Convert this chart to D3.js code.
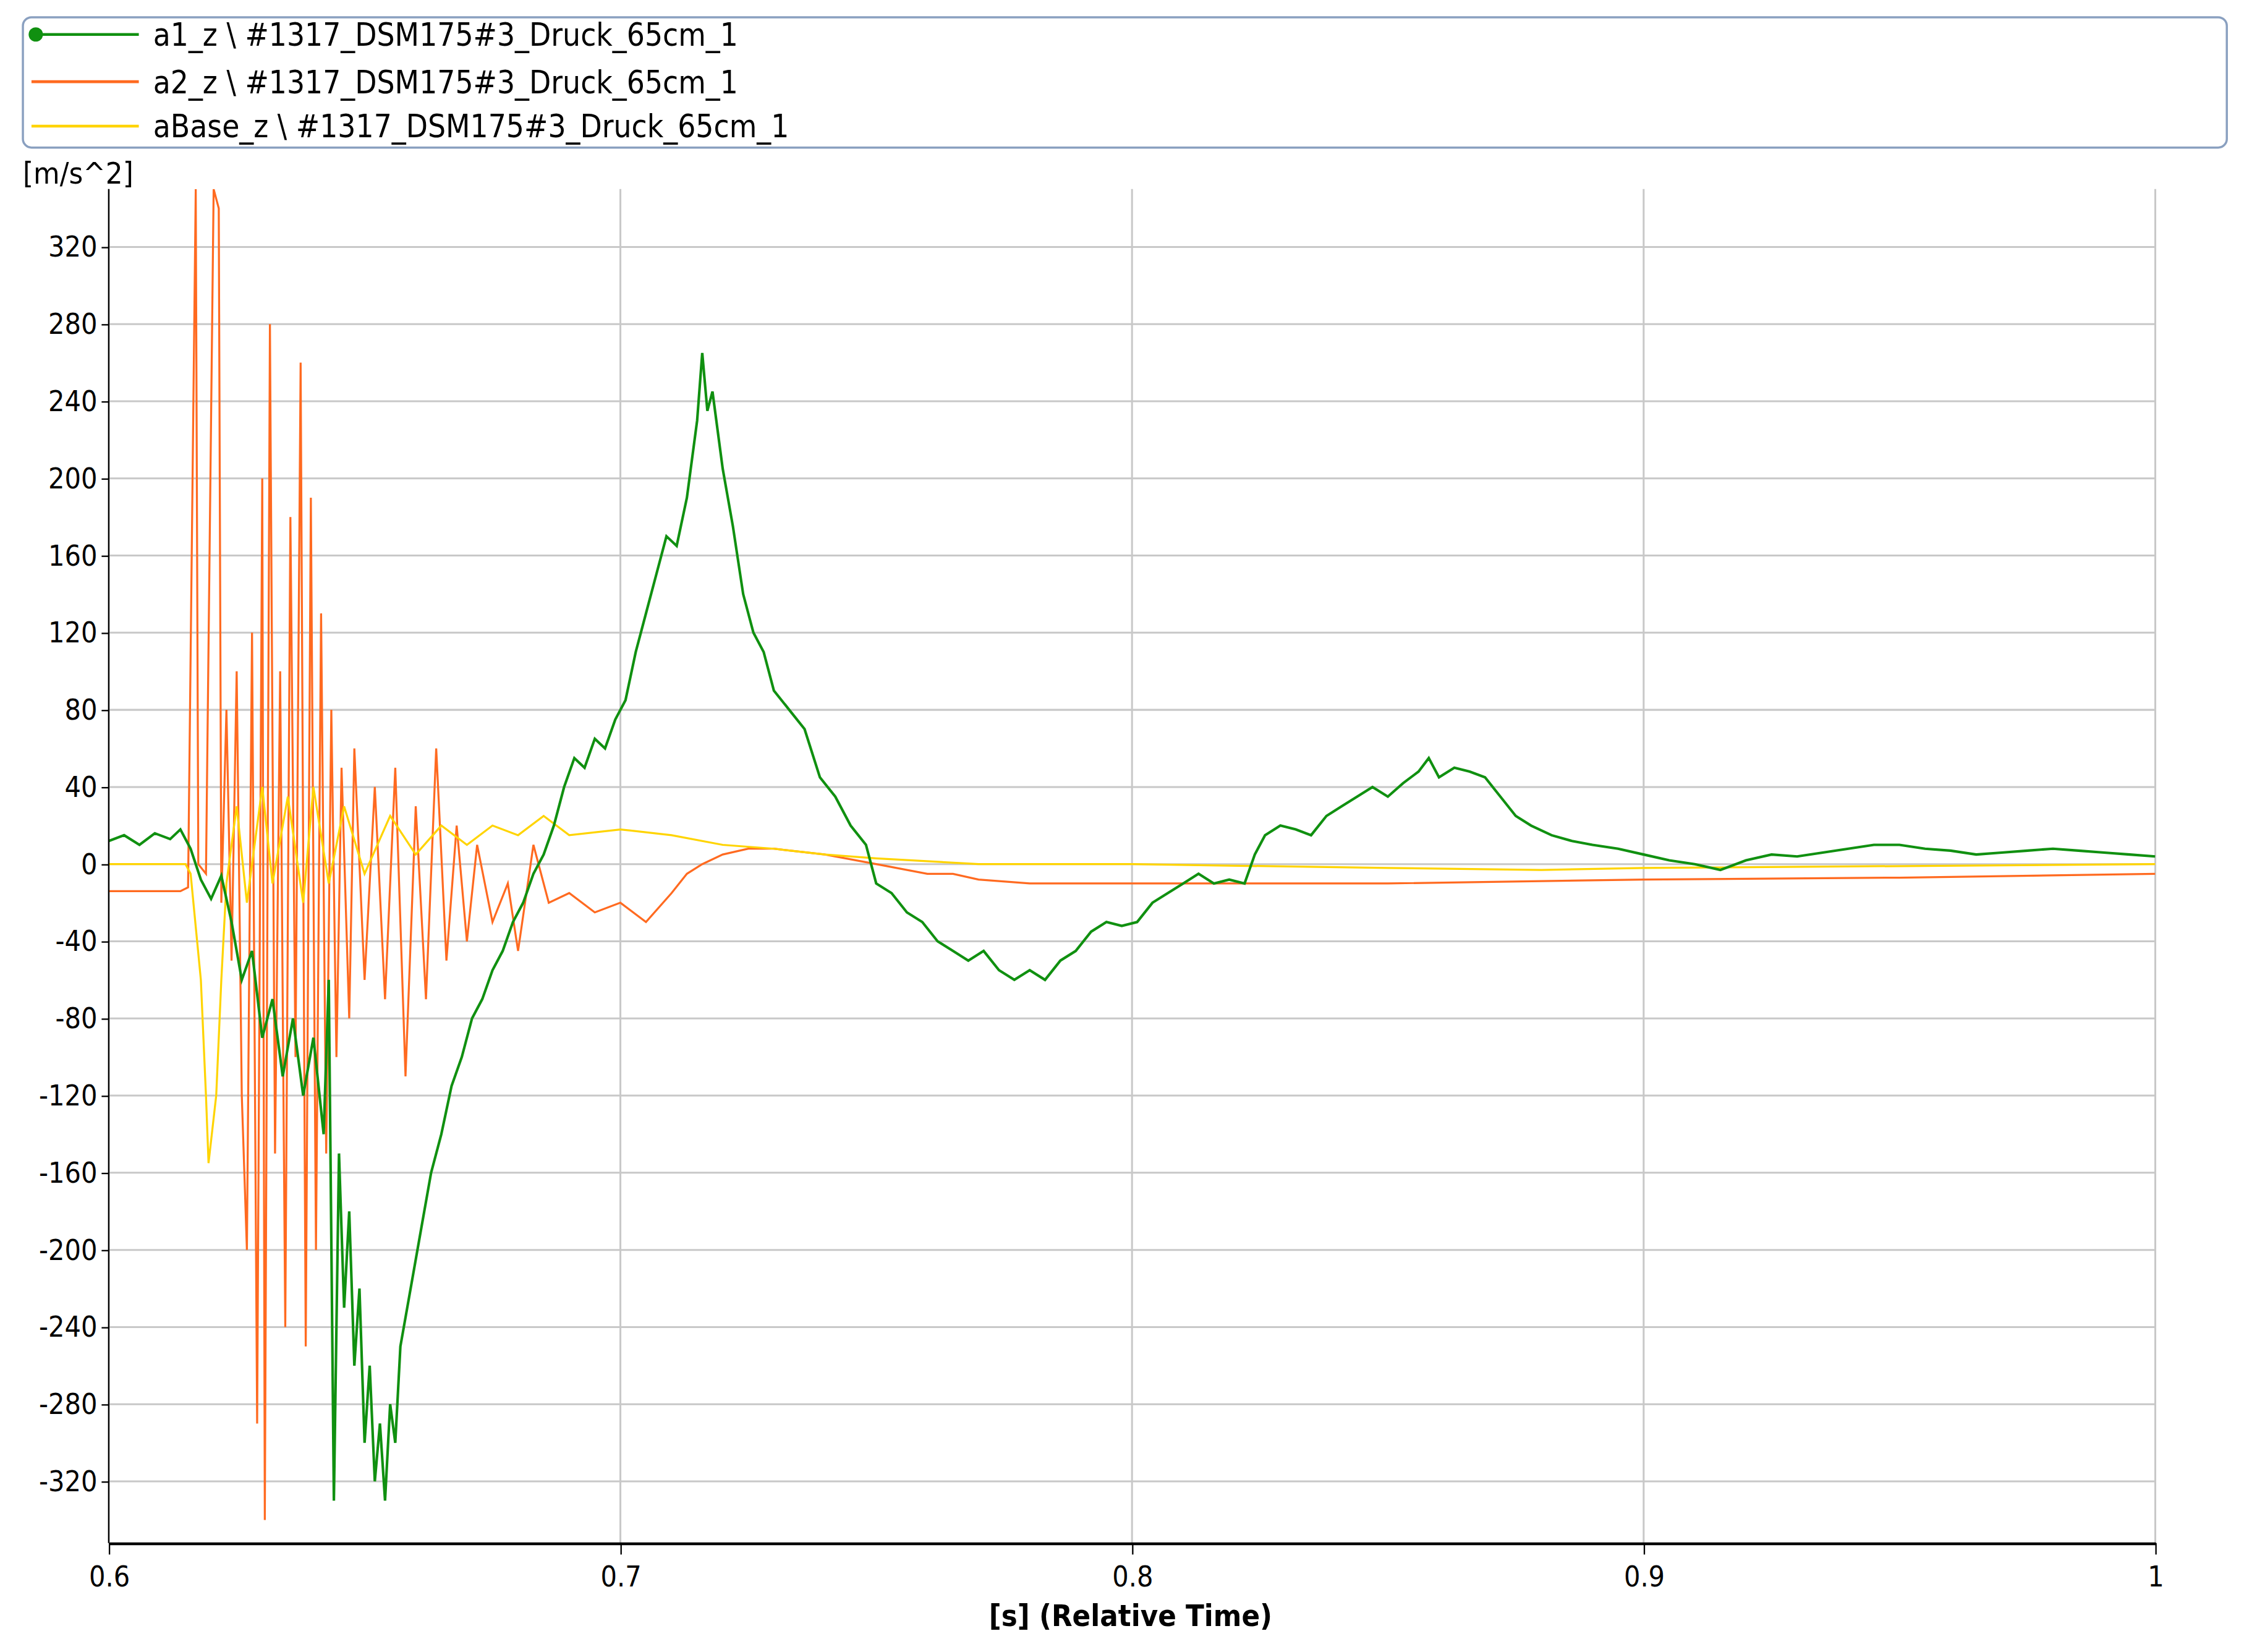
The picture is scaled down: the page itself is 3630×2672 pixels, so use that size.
<!DOCTYPE html><html><head><meta charset="utf-8"><script src="https://cdn.jsdelivr.net/npm/d3@7"></script>
<style>body{margin:0;background:#fff}text{font-family:"DejaVu Sans Condensed","DejaVu Sans",sans-serif}</style></head><body>
<svg id="c" width="3630" height="2672" viewBox="0 0 1568 1154"></svg>
<script>
const xTicks=[0.6,0.7,0.8,0.9,1];
const xTickLabels=["0.6","0.7","0.8","0.9","1"];
const yTicks=[-320,-280,-240,-200,-160,-120,-80,-40,0,40,80,120,160,200,240,280,320];
const seriesNames=["a1_z \\ #1317_DSM175#3_Druck_65cm_1","a2_z \\ #1317_DSM175#3_Druck_65cm_1","aBase_z \\ #1317_DSM175#3_Druck_65cm_1"];
const colors=["#109010","#ff6a20","#ffd400"];
const a1=[[0.6,12],[0.603,15],[0.606,10],[0.609,16],[0.612,13],[0.614,18],[0.616,8],[0.618,-8],[0.62,-18],[0.622,-6],[0.624,-30],[0.626,-60],[0.628,-45],[0.63,-90],[0.632,-70],[0.634,-110],[0.636,-80],[0.638,-120],[0.64,-90],[0.642,-140],[0.643,-60],[0.644,-330],[0.645,-150],[0.646,-230],[0.647,-180],[0.648,-260],[0.649,-220],[0.65,-300],[0.651,-260],[0.652,-320],[0.653,-290],[0.654,-330],[0.655,-280],[0.656,-300],[0.657,-250],[0.659,-220],[0.661,-190],[0.663,-160],[0.665,-140],[0.667,-115],[0.669,-100],[0.671,-80],[0.673,-70],[0.675,-55],[0.677,-45],[0.679,-30],[0.681,-20],[0.683,-5],[0.685,5],[0.687,20],[0.689,40],[0.691,55],[0.693,50],[0.695,65],[0.697,60],[0.699,75],[0.701,85],[0.703,110],[0.705,130],[0.707,150],[0.709,170],[0.711,165],[0.713,190],[0.715,230],[0.716,265],[0.717,235],[0.718,245],[0.72,205],[0.722,175],[0.724,140],[0.726,120],[0.728,110],[0.73,90],[0.733,80],[0.736,70],[0.739,45],[0.742,35],[0.745,20],[0.748,10],[0.75,-10],[0.753,-15],[0.756,-25],[0.759,-30],[0.762,-40],[0.765,-45],[0.768,-50],[0.771,-45],[0.774,-55],[0.777,-60],[0.78,-55],[0.783,-60],[0.786,-50],[0.789,-45],[0.792,-35],[0.795,-30],[0.798,-32],[0.801,-30],[0.804,-20],[0.807,-15],[0.81,-10],[0.813,-5],[0.816,-10],[0.819,-8],[0.822,-10],[0.824,5],[0.826,15],[0.829,20],[0.832,18],[0.835,15],[0.838,25],[0.841,30],[0.844,35],[0.847,40],[0.85,35],[0.853,42],[0.856,48],[0.858,55],[0.86,45],[0.863,50],[0.866,48],[0.869,45],[0.872,35],[0.875,25],[0.878,20],[0.882,15],[0.886,12],[0.89,10],[0.895,8],[0.9,5],[0.905,2],[0.91,0],[0.915,-3],[0.92,2],[0.925,5],[0.93,4],[0.935,6],[0.94,8],[0.945,10],[0.95,10],[0.955,8],[0.96,7],[0.965,5],[0.97,6],[0.975,7],[0.98,8],[0.985,7],[0.99,6],[0.995,5],[1.0,4]];
const a2=[[0.6,-14],[0.614,-14],[0.6155,-12],[0.617,350],[0.6175,0],[0.619,-5],[0.6205,350],[0.6215,340],[0.622,-20],[0.623,80],[0.624,-50],[0.625,100],[0.626,-120],[0.627,-200],[0.628,120],[0.629,-290],[0.63,200],[0.6305,-340],[0.6315,280],[0.6325,-150],[0.6335,100],[0.6345,-240],[0.6355,180],[0.6365,-100],[0.6375,260],[0.6385,-250],[0.6395,190],[0.6405,-200],[0.6415,130],[0.6425,-150],[0.6435,80],[0.6445,-100],[0.6455,50],[0.647,-80],[0.648,60],[0.65,-60],[0.652,40],[0.654,-70],[0.656,50],[0.658,-110],[0.66,30],[0.662,-70],[0.664,60],[0.666,-50],[0.668,20],[0.67,-40],[0.672,10],[0.675,-30],[0.678,-10],[0.68,-45],[0.683,10],[0.686,-20],[0.69,-15],[0.695,-25],[0.7,-20],[0.705,-30],[0.71,-15],[0.713,-5],[0.716,0],[0.72,5],[0.725,8],[0.73,8],[0.74,5],[0.75,0],[0.76,-5],[0.765,-5],[0.77,-8],[0.78,-10],[0.8,-10],[0.82,-10],[0.85,-10],[0.9,-8],[0.95,-7],[1.0,-5]];
const aBase=[[0.6,0],[0.615,0],[0.616,-5],[0.618,-60],[0.619,-120],[0.6195,-155],[0.621,-120],[0.622,-60],[0.623,-10],[0.625,30],[0.627,-20],[0.63,40],[0.632,-10],[0.635,35],[0.638,-20],[0.64,40],[0.643,-10],[0.646,30],[0.65,-5],[0.655,25],[0.66,5],[0.665,20],[0.67,10],[0.675,20],[0.68,15],[0.685,25],[0.69,15],[0.7,18],[0.71,15],[0.72,10],[0.73,8],[0.74,5],[0.75,3],[0.77,0],[0.8,0],[0.85,-2],[0.88,-3],[0.9,-2],[1.0,0]];
const data=[a1,a2,aBase];
const svg=d3.select("#c");
const L=76,R=1506,T=132,B=1078;
const x=d3.scaleLinear().domain([0.6,1]).range([L,R]);
const y=d3.scaleLinear().domain([-352,350]).range([B,T]);
svg.append("g").selectAll("line").data(yTicks).join("line").attr("x1",L).attr("x2",R).attr("y1",d=>y(d)).attr("y2",d=>y(d)).attr("stroke","#c8c8c8").attr("stroke-width",1.3);
svg.append("g").selectAll("line").data(xTicks).join("line").attr("x1",d=>x(d)).attr("x2",d=>x(d)).attr("y1",T).attr("y2",B).attr("stroke","#c8c8c8").attr("stroke-width",1.3);
svg.append("clipPath").attr("id","cp").append("rect").attr("x",L).attr("y",T).attr("width",R-L).attr("height",B-T);
const line=d3.line().x(d=>x(d[0])).y(d=>y(d[1]));
[1,2,0].forEach(i=>svg.append("path").attr("clip-path","url(#cp)").attr("d",line(data[i])).attr("fill","none").attr("stroke",colors[i]).attr("stroke-width",i==0?1.8:1.4));
const ya=svg.append("g").attr("transform",`translate(${L},0)`).call(d3.axisLeft(y).tickValues(yTicks).tickFormat(d=>String(d)).tickSize(5).tickSizeOuter(0));
ya.select(".domain").attr("d",`M0,${T}V${B}`);
ya.selectAll("text").attr("font-size",20).attr("font-family","DejaVu Sans Condensed");
const xa=svg.append("g").attr("transform",`translate(0,${B})`).call(d3.axisBottom(x).tickValues(xTicks).tickFormat((d,i)=>xTickLabels[i]).tickSize(8).tickSizeOuter(0).tickPadding(8));
xa.select(".domain").attr("stroke-width",2);
xa.selectAll("text").attr("font-size",20).attr("font-family","DejaVu Sans Condensed");
svg.append("text").attr("x",16).attr("y",128).attr("font-size",21).text("[m/s^2]");
svg.append("text").attr("x",790).attr("y",1136).attr("text-anchor","middle").attr("font-size",21).attr("font-weight","bold").text("[s] (Relative Time)");
svg.append("rect").attr("x",16).attr("y",12).attr("width",1540).attr("height",91).attr("rx",6).attr("fill","none").attr("stroke","#8aa0c0").attr("stroke-width",1.5);
seriesNames.forEach((n,i)=>{const yy=[24,57,88][i];
svg.append("line").attr("x1",22).attr("x2",97).attr("y1",yy).attr("y2",yy).attr("stroke",colors[i]).attr("stroke-width",2);
if(i==0)svg.append("circle").attr("cx",25).attr("cy",yy).attr("r",5).attr("fill",colors[0]);
svg.append("text").attr("x",107).attr("y",yy+8).attr("font-size",22).text(n);});
</script></body></html>
